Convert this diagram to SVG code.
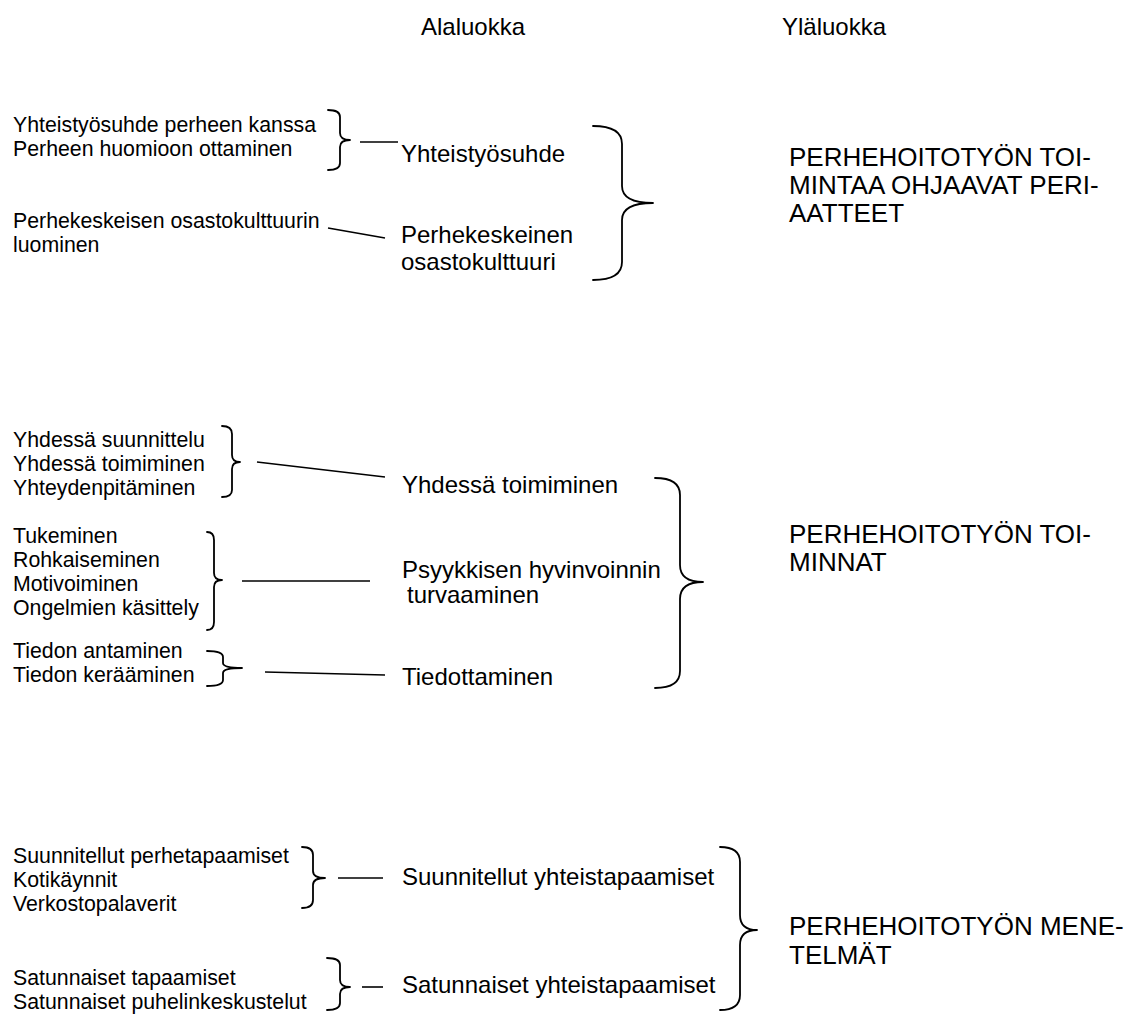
<svg xmlns="http://www.w3.org/2000/svg" width="1144" height="1016" viewBox="0 0 1144 1016">
<style>
text{font-family:"Liberation Sans",Arial,sans-serif;fill:#000}
.h{font-size:24px}
.s{font-size:21.3px}
.n{font-size:24px}
.c{font-size:26px}
.br{fill:none;stroke:#000;stroke-width:1.8;stroke-linejoin:round;stroke-linecap:round}
.ln{fill:none;stroke:#000;stroke-width:1.6}
</style>
<rect width="1144" height="1016" fill="#fff"/>
<g id="headers">
<text class="h" x="421" y="35">Alaluokka</text>
<text class="h" x="782" y="35">Yläluokka</text>
</g>
<g id="sub-yhteistyo">
<text class="s" x="13" y="132">Yhteistyösuhde perheen kanssa</text>
<text class="s" x="13" y="156">Perheen huomioon ottaminen</text>
<path class="br" d="M328 110 Q340 110 340 117 L340 133 Q340 140 350 140 Q340 140 340 147 L340 163 Q340 170 328 170"/>
</g>
<g id="sub-osastokulttuuri">
<text class="s" x="13" y="228">Perhekeskeisen osastokulttuurin</text>
<text class="s" x="13" y="252">luominen</text>
</g>
<g id="node-yhteistyosuhde"><text class="n" x="401" y="162">Yhteistyösuhde</text></g>
<g id="node-perhekeskeinen"><text class="n" x="401" y="243">Perhekeskeinen</text><text class="n" x="401" y="270">osastokulttuuri</text></g>
<g id="cat-periaatteet">
<path class="br" d="M593 126 Q622 126 622 144 L622 186 Q622 203 653 203 Q622 203 622 220 L622 262 Q622 280 593 280"/>
<text class="c" x="789" y="166">PERHEHOITOTYÖN TOI-</text>
<text class="c" x="789" y="194">MINTAA OHJAAVAT PERI-</text>
<text class="c" x="789" y="222">AATTEET</text>
</g>
<g id="sub-yhdessa">
<text class="s" x="13" y="447">Yhdessä suunnittelu</text>
<text class="s" x="13" y="471">Yhdessä toimiminen</text>
<text class="s" x="13" y="495">Yhteydenpitäminen</text>
<path class="br" d="M222 426 Q232 426 232 434 L232 455 Q232 462 240 462 Q232 462 232 469 L232 490 Q232 497 222 497"/>
</g>
<g id="sub-psyykkinen">
<text class="s" x="13" y="543">Tukeminen</text>
<text class="s" x="13" y="567">Rohkaiseminen</text>
<text class="s" x="13" y="591">Motivoiminen</text>
<text class="s" x="13" y="615">Ongelmien käsittely</text>
<path class="br" d="M207 532 Q214 532 214 540 L214 573 Q214 580 222 580 Q214 580 214 587 L214 622 Q214 630 207 630"/>
</g>
<g id="sub-tiedotus">
<text class="s" x="13" y="658">Tiedon antaminen</text>
<text class="s" x="13" y="682">Tiedon kerääminen</text>
<path class="br" d="M207 651 Q223 651 223 657 L223 663 Q223 668 242 668 Q223 668 223 673 L223 680 Q223 686 207 686"/>
</g>
<g id="node-yhdessa"><text class="n" x="402" y="493">Yhdessä toimiminen</text></g>
<g id="node-psyykkinen"><text class="n" x="402" y="578">Psyykkisen hyvinvoinnin</text><text class="n" x="407" y="603">turvaaminen</text></g>
<g id="node-tiedottaminen"><text class="n" x="402" y="685">Tiedottaminen</text></g>
<g id="cat-toiminnat">
<path class="br" d="M655 478 Q680 478 680 495 L680 565 Q680 582 703 582 Q680 582 680 599 L680 671 Q680 688 655 688"/>
<text class="c" x="789" y="543">PERHEHOITOTYÖN TOI-</text>
<text class="c" x="789" y="571">MINNAT</text>
</g>
<g id="sub-suunnitellut">
<text class="s" x="13" y="863">Suunnitellut perhetapaamiset</text>
<text class="s" x="13" y="887">Kotikäynnit</text>
<text class="s" x="13" y="911">Verkostopalaverit</text>
<path class="br" d="M302 847 Q313 847 313 855 L313 871 Q313 878 325 878 Q313 878 313 885 L313 900 Q313 908 302 908"/>
</g>
<g id="sub-satunnaiset">
<text class="s" x="13" y="985">Satunnaiset tapaamiset</text>
<text class="s" x="13" y="1009">Satunnaiset puhelinkeskustelut</text>
<path class="br" d="M327 958 Q340 958 340 965 L340 980 Q340 987 350 987 Q340 987 340 994 L340 1003 Q340 1010 327 1010"/>
</g>
<g id="node-suunnitellut"><text class="n" x="402" y="885">Suunnitellut yhteistapaamiset</text></g>
<g id="node-satunnaiset"><text class="n" x="402" y="993">Satunnaiset yhteistapaamiset</text></g>
<g id="cat-menetelmat">
<path class="br" d="M720 847 Q740 847 740 862 L740 915 Q740 930 757 930 Q740 930 740 945 L740 995 Q740 1010 720 1010"/>
<text class="c" x="789" y="935">PERHEHOITOTYÖN MENE-</text>
<text class="c" x="789" y="964">TELMÄT</text>
</g>
<g id="connectors">
<line class="ln" x1="360" y1="142" x2="398" y2="142"/>
<line class="ln" x1="328" y1="228" x2="385" y2="238"/>
<line class="ln" x1="257" y1="462" x2="385" y2="477"/>
<line class="ln" x1="242" y1="581" x2="370" y2="581"/>
<line class="ln" x1="265" y1="672" x2="385" y2="675"/>
<line class="ln" x1="338" y1="878" x2="383" y2="878"/>
<line class="ln" x1="362" y1="987" x2="383" y2="987"/>
</g>
</svg>
